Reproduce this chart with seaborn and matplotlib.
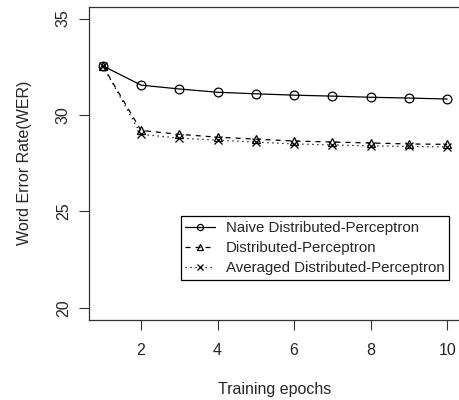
import pandas as pd
import matplotlib
matplotlib.use("Agg")
import matplotlib.pyplot as plt
import seaborn as sns

# Values
epochs = [1, 2, 3, 4, 5, 6, 7, 8, 9, 10]
naive = [32.55, 31.55, 31.35, 31.18, 31.1, 31.03, 30.98, 30.92, 30.88, 30.83]
distributed = [32.55, 29.2, 29.0, 28.85, 28.75, 28.65, 28.6, 28.55, 28.5, 28.48]
averaged = [32.55, 29.0, 28.8, 28.7, 28.6, 28.5, 28.45, 28.4, 28.37, 28.35]
series_names = ["Naive Distributed-Perceptron", "Distributed-Perceptron",
                "Averaged Distributed-Perceptron"]
y_ticks = [20, 25, 30, 35]
x_ticks = [2, 4, 6, 8, 10]

sns.set_style("ticks")
plt.rcParams['font.family'] = ['Liberation Sans', 'DejaVu Sans']

df = pd.DataFrame({"epoch": epochs * 3,
                   "wer": naive + distributed + averaged,
                   "method": [n for n in series_names for _ in epochs]})

fig = plt.figure(figsize=(4.59, 4.00), dpi=100)
ax = fig.add_axes([89 / 459, 1 - 319.5 / 400, 372 / 459, 312.5 / 400])

styles = {series_names[0]: ("-", "o"),
          series_names[1]: ((0, (4, 4)), "^"),
          series_names[2]: ((0, (1, 3)), "x")}
for name in series_names:
    ls, mk = styles[name]
    sns.lineplot(data=df[df["method"] == name], x="epoch", y="wer", ax=ax,
                 color="black", linestyle=ls, linewidth=0.9, marker=mk,
                 markersize=6.3, markerfacecolor="none", markeredgecolor="black",
                 markeredgewidth=0.9, label=name)

ax.set_xlim(0.64, 10.36)
ax.set_ylim(19.4, 35.6)
ax.set_xticks(x_ticks)
ax.set_yticks(y_ticks)
ax.set_yticklabels([str(t) for t in y_ticks], rotation=90, va="center")
ax.tick_params(axis="both", direction="out", length=7, width=0.8,
               color="#333333", labelsize=11.5, pad=10)
ax.tick_params(axis="y", pad=6)
for sp in ax.spines.values():
    sp.set_visible(True)
    sp.set_linewidth(0.9)
    sp.set_color("#333333")

ax.set_xlabel("Training epochs", fontsize=11.5, labelpad=17)
ax.set_ylabel("Word Error Rate(WER)", fontsize=11.5, labelpad=17)

leg = ax.legend(loc="upper left", bbox_to_anchor=(0.247, 0.33), fontsize=10.8,
                frameon=True, fancybox=False, edgecolor="black", framealpha=1,
                handlelength=2.0, handletextpad=0.7, borderpad=0.3,
                labelspacing=0.42, borderaxespad=0, numpoints=1, markerscale=0.7)
leg.get_frame().set_linewidth(0.9)

fig.savefig("out.png", dpi=100)
